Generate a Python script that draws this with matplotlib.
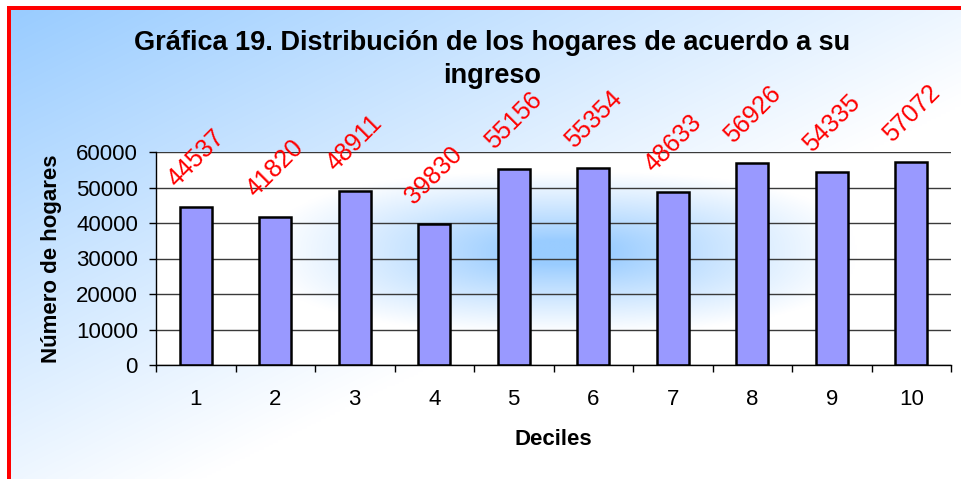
import matplotlib
matplotlib.use("Agg")
import matplotlib.pyplot as plt
import numpy as np
from matplotlib.patches import Rectangle

# data
deciles = [1, 2, 3, 4, 5, 6, 7, 8, 9, 10]
hogares = [44537, 41820, 48911, 39830, 55156, 55354, 48633, 56926, 54335, 57072]
yticks = [0, 10000, 20000, 30000, 40000, 50000, 60000]

title_1 = "Gráfica 19. Distribución de los hogares de acuerdo a su"
title_2 = "ingreso"
xlabel = "Deciles"
ylabel = "Número de hogares"

plt.rcParams['font.family'] = ['Liberation Sans', 'DejaVu Sans']

W, H = 961, 479
fig = plt.figure(figsize=(W / 100, H / 100), dpi=100)
fig.patch.set_facecolor('white')

light = np.array([0.60, 0.80, 1.0])
white = np.array([1.0, 1.0, 1.0])

# chart background: diagonal gradient plus red frame on top and left
bg = fig.add_axes([0, 0, 1, 1], zorder=-10)
gx, gy = np.meshgrid(np.linspace(0, 1, 400), np.linspace(0, 1, 200))
t = np.clip((gx + gy) / 1.2, 0, 1)[..., None]
bg.imshow(light + (white - light) * t, extent=(11, W, H, 10),
          aspect='auto', interpolation='bilinear')
bg.add_patch(Rectangle((7, 6), W - 7, 4, color='red', lw=0))
bg.add_patch(Rectangle((7, 6), 4, H - 6, color='red', lw=0))
bg.set_xlim(0, W)
bg.set_ylim(H, 0)
bg.axis('off')

# plot area
ax = fig.add_axes([156 / W, 1 - 365 / H, (951 - 156) / W, (365 - 152) / H])
ax.patch.set_visible(False)

# "from centre" fill of the plot area
px, py = np.meshgrid(np.linspace(0, 1, 400), np.linspace(0, 1, 200))
p = 2.5
d = (np.abs((px - 0.51) / 0.37) ** p + np.abs((py - 0.47) / 0.38) ** p) ** (1 / p)
tt = np.clip((d - 0.15) / 0.85, 0, 1)[..., None] ** 0.9
ax.imshow(light + (white - light) * tt, extent=(0.5, 10.5, 0, 60000),
          aspect='auto', origin='upper', zorder=0, interpolation='bilinear')

ax.bar(deciles, hogares, width=0.4, color='#9999FF', edgecolor='black',
       linewidth=1.8, zorder=2)

for x, v in zip(deciles, hogares):
    ax.annotate(str(v), (x, v), xytext=(0, 35), textcoords='offset points',
                rotation=45, ha='center', va='center', color='red', fontsize=18)

ax.set_xlim(0.5, 10.5)
ax.set_ylim(0, 60000)
ax.set_yticks(yticks)
ax.set_yticklabels([str(v) for v in yticks])
ax.set_xticks(deciles)
ax.set_xticks(np.arange(0.5, 11, 1), minor=True)
ax.set_axisbelow(True)
ax.yaxis.grid(True, color='#3a3a3a', linewidth=1)

for s in ['top', 'right']:
    ax.spines[s].set_visible(False)
for s in ['left', 'bottom']:
    ax.spines[s].set_color('black')
    ax.spines[s].set_linewidth(1)

ax.tick_params(axis='x', which='major', length=0, pad=17, labelsize=16)
ax.tick_params(axis='x', which='minor', length=5, width=1, direction='out')
ax.tick_params(axis='y', length=5, width=1, direction='out', pad=8, labelsize=16)

ax.set_xlabel(xlabel, fontsize=16, fontweight='bold', labelpad=14)
ax.set_ylabel(ylabel, fontsize=16, fontweight='bold', labelpad=10)

fig.text(492 / W, 1 - 50 / H, title_1, ha='center', va='baseline',
         fontsize=19.5, fontweight='bold')
fig.text(492 / W, 1 - 83 / H, title_2, ha='center', va='baseline',
         fontsize=19.5, fontweight='bold')

fig.savefig('out.png', dpi=100)
